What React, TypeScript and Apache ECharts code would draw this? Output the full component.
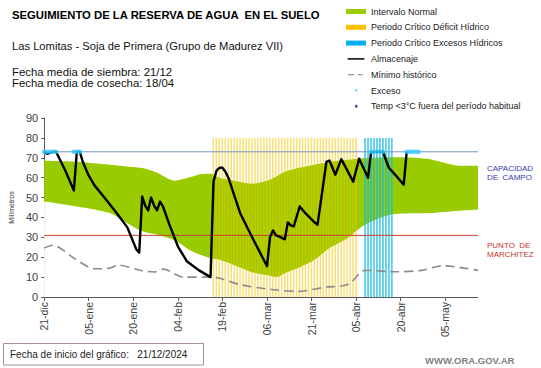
import React, { useEffect, useRef } from "react";
import * as echarts from "echarts";

// ---- axis ----
const tickLabels = ["21-dic", "05-ene", "20-ene", "04-feb", "19-feb", "06-mar", "21-mar", "05-abr", "20-abr", "05-may"];
const tickStep = 15;
const lastDay = 146;

// ---- Intervalo normal (band) ----
const bandDays = [0, 11, 22, 27, 33, 38, 44, 49, 53, 56, 59, 64, 70, 75, 78, 81, 86, 91, 96, 102, 107, 113, 118, 129, 140, 146];
const bandUpper = [68.5, 68, 66.5, 65.8, 64.8, 62.5, 58.5, 60.2, 61.8, 62, 60, 58.5, 57, 58.5, 60.5, 63, 65, 66.5, 68, 69, 69.8, 70.2, 70.3, 69.5, 66, 66];
const bandLower = [48, 45.5, 42.2, 38, 33, 31.3, 28.5, 23.5, 21, 19.5, 18.7, 16, 12.5, 11, 10, 12, 15, 18.7, 24.6, 29.6, 35.5, 39.7, 41.7, 42.2, 43.4, 44];

// ---- Mínimo histórico ----
const minDays = [0, 3, 10, 17, 22, 25, 33, 37, 40, 47, 55, 59, 66, 77, 85, 95, 100, 103, 108, 118, 127, 134, 146];
const minValues = [24.6, 26, 19.6, 14.2, 14.5, 16, 13.2, 12.6, 14, 10, 10, 9.4, 6.2, 3.7, 2.8, 5, 5.5, 7, 13.4, 12.7, 13.4, 15.7, 13.4];

// ---- Almacenaje ----
const almDays = [0, 1, 2, 3, 4, 5, 7, 10, 11, 12, 13, 15, 17, 20, 24, 28, 31, 32, 33, 34, 35, 36, 37, 38, 39, 40, 42, 45, 48, 52, 56, 57, 58, 59, 60, 61, 62, 66, 70, 75, 76, 77, 78, 79, 81, 82, 83, 84, 86, 88, 91, 92, 95, 96, 98, 100, 104, 106, 109, 110, 111, 114, 116, 119, 121, 122];
const almValues = [73, 72, 72.5, 73, 73, 70, 64, 53.5, 73, 73, 68, 61, 56, 50.5, 43, 35, 24, 22.3, 50.5, 46, 43.5, 50, 46, 43.5, 48, 45.5, 37, 25.5, 18, 13.5, 10, 58, 63.5, 65, 65, 63, 60, 42, 30, 15.5, 30, 33.5, 31, 30.5, 29, 37.5, 36, 35.5, 45.5, 42, 37.5, 36.3, 68, 68.6, 61.5, 69.3, 58, 69.5, 60, 72.5, 73, 73, 65, 60, 56.5, 73];

// ---- Exceso ----
const excesoDays = [0, 1, 2, 3, 4, 10, 11, 12, 110, 111, 112, 113, 114, 122, 123, 124, 125, 126];
const excesoValues = [73, 73, 73, 73, 73, 73, 73, 73, 73, 73, 73, 73, 73, 73, 73, 73, 73, 73];

// ---- Periodos críticos ----
const deficitStart = 57;
const deficitEnd = 105;
const excesoStart = 108;
const excesoEnd = 117;
const periodTop = 80;

// ---- Reference levels ----
const capacidadCampo = 73;
const puntoMarchitez = 31;

const FONT = '"Liberation Sans", Arial, sans-serif';

function periodBars(a: number, b: number) {
  const out: number[][] = [];
  for (let d = a; d <= b; d++) out.push([d, periodTop]);
  return out;
}

export default function App() {
  const ref = useRef<HTMLDivElement>(null);
  useEffect(() => {
    if (!ref.current) return;
    const chart = echarts.init(ref.current, null, { renderer: "svg" });
    const option: any = {
      animation: false,
      backgroundColor: "#ffffff",
      textStyle: { fontFamily: FONT },
      title: [
        { text: "SEGUIMIENTO DE LA RESERVA DE AGUA  EN EL SUELO", left: 12, top: 9, padding: 0, textStyle: { fontSize: 11.3, fontWeight: "bold", color: "#000", fontFamily: FONT } },
        { text: "Las Lomitas - Soja de Primera (Grupo de Madurez VII)", left: 12, top: 40, padding: 0, textStyle: { fontSize: 11.2, fontWeight: "normal", color: "#111", fontFamily: FONT } },
        { text: "Fecha media de siembra: 21/12", left: 12, top: 66, padding: 0, textStyle: { fontSize: 11.4, fontWeight: "normal", color: "#111", lineHeight: 11, fontFamily: FONT } },
        { text: "Fecha media de cosecha: 18/04", left: 12, top: 77, padding: 0, textStyle: { fontSize: 11.4, fontWeight: "normal", color: "#111", lineHeight: 11, fontFamily: FONT } },
      ],
      legend: {
        orient: "vertical",
        left: 346,
        top: 6,
        padding: 0,
        itemWidth: 20,
        itemHeight: 5,
        itemGap: 4.8,
        selectedMode: false,
        textStyle: { fontSize: 9, color: "#222", lineHeight: 11, fontFamily: FONT },
        data: [
          { name: "Intervalo Normal", icon: "rect", itemStyle: { color: "#99cc00" } },
          { name: "Periodo Crítico Déficit Hídrico", icon: "rect", itemStyle: { color: "#ffc000" } },
          { name: "Periodo Crítico Excesos Hídricos", icon: "rect", itemStyle: { color: "#00b0f0" } },
          { name: "Almacenaje", icon: "path://M0,0M20,6M0,2.1h20v1.8h-20z", itemStyle: { color: "#000" } },
          { name: "Mínimo histórico", icon: "path://M0,0M20,6M0,2.4h8v1.3h-8zM12,2.4h6v1.3h-6z", itemStyle: { color: "#808080" } },
          { name: "Exceso", icon: "path://M0,0M20,6M9,1.6h2.6v2.6h-2.6z", itemStyle: { color: "#33ccff" } },
          { name: "Temp <3°C fuera del período habitual", icon: "path://M0,0M20,6M10.3,0.6L12.3,3L10.3,5.4L8.3,3z", itemStyle: { color: "#1a1a99" } },
        ],
      },
      grid: { left: 33, right: 63, top: 118, bottom: 71, containLabel: false },
      xAxis: {
        type: "value",
        min: 0,
        max: lastDay,
        interval: tickStep,
        axisLine: { show: true, lineStyle: { color: "#595959", width: 1 } },
        axisTick: { show: true, length: 4, lineStyle: { color: "#595959" } },
        splitLine: { show: false },
        axisLabel: {
          rotate: 90,
          fontSize: 10.5,
          color: "#404040",
          margin: 5,
          showMaxLabel: false,
          formatter: (v: number) => {
            const i = Math.round(v / tickStep);
            return Math.abs(v - i * tickStep) < 0.01 && tickLabels[i] ? tickLabels[i] : "";
          },
        },
      },
      yAxis: {
        type: "value",
        min: 0,
        max: 90,
        interval: 10,
        axisLine: { show: true, lineStyle: { color: "#595959", width: 1 } },
        axisTick: { show: true, length: 3, lineStyle: { color: "#595959" } },
        splitLine: { show: false },
        axisLabel: { fontSize: 11, color: "#404040", margin: 6 },
        name: "Milímetros",
        nameLocation: "middle",
        nameGap: 25,
        nameRotate: 90,
        nameTextStyle: { fontSize: 7, color: "#333" },
      },
      series: [
        {
          name: "Intervalo Normal",
          type: "line",
          z: 2,
          symbol: "none",
          smooth: 0.3,
          silent: true,
          lineStyle: { width: 0 },
          itemStyle: { color: "#99cc00" },
          areaStyle: { color: "#99cc00", opacity: 1 },
          data: bandDays.map((d, i) => [d, bandUpper[i]]),
        },
        {
          name: "Límite inferior",
          type: "line",
          z: 2,
          symbol: "none",
          smooth: 0.3,
          silent: true,
          lineStyle: { width: 0 },
          itemStyle: { color: "#ffffff" },
          areaStyle: { color: "#ffffff", opacity: 1 },
          data: bandDays.map((d, i) => [d, bandLower[i]]),
        },
        {
          name: "Periodo Crítico Déficit Hídrico",
          type: "bar",
          z: 4,
          barWidth: 1.5,
          barGap: "-100%",
          itemStyle: { color: "rgba(240,196,0,0.55)" },
          data: periodBars(deficitStart, deficitEnd),
        },
        {
          name: "Periodo Crítico Excesos Hídricos",
          type: "bar",
          z: 4,
          barWidth: 1.8,
          barGap: "-100%",
          itemStyle: { color: "rgba(20,185,225,0.7)" },
          data: periodBars(excesoStart, excesoEnd),
        },
        {
          name: "Capacidad de campo",
          type: "line",
          z: 5,
          symbol: "none",
          silent: true,
          lineStyle: { color: "#7393c4", width: 1 },
          data: [[0, capacidadCampo], [lastDay, capacidadCampo]],
        },
        {
          name: "Punto de marchitez",
          type: "line",
          z: 5,
          symbol: "none",
          silent: true,
          lineStyle: { color: "#c8412f", width: 1 },
          data: [[0, puntoMarchitez], [lastDay, puntoMarchitez]],
        },
        {
          name: "Mínimo histórico",
          type: "line",
          z: 5,
          symbol: "none",
          smooth: 0.3,
          itemStyle: { color: "#808080" },
          lineStyle: { color: "#8c8c8c", width: 1.6, type: [9, 5] },
          data: minDays.map((d, i) => [d, minValues[i]]),
        },
        {
          name: "Almacenaje",
          type: "line",
          z: 6,
          symbol: "none",
          itemStyle: { color: "#000" },
          lineStyle: { color: "#000", width: 2.4, join: "round" },
          data: almDays.map((d, i) => [d, almValues[i]]),
        },
        {
          name: "Exceso",
          type: "scatter",
          z: 7,
          symbol: "circle",
          symbolSize: 4.5,
          itemStyle: { color: "#33ccff" },
          data: excesoDays.map((d, i) => [d, excesoValues[i]]),
        },
        {
          name: "Temp <3°C fuera del período habitual",
          type: "scatter",
          z: 7,
          symbol: "diamond",
          symbolSize: 5,
          itemStyle: { color: "#1a1a99" },
          data: [],
        },
      ],
      graphic: [
        { type: "text", left: 487, top: 164, style: { text: "CAPACIDAD\nDE  CAMPO", fontSize: 8, fontFamily: FONT, fill: "#3c3ca8", lineHeight: 9 } },
        { type: "text", left: 487, top: 241, style: { text: "PUNTO  DE\nMARCHITEZ", fontSize: 8, fontFamily: FONT, fill: "#c0392b", lineHeight: 9 } },
        { type: "rect", shape: { x: 3.5, y: 343.5, width: 200, height: 21.5 }, style: { fill: "#fff", stroke: "#a89090", lineWidth: 1 } },
        { type: "text", x: 10, y: 354.5, style: { text: "Fecha de inicio del gráfico:   21/12/2024", fontSize: 10, fontFamily: FONT, fill: "#222", verticalAlign: "middle" } },
        { type: "text", x: 425, y: 360, style: { text: "WWW.ORA.GOV.AR", fontSize: 9.5, fontWeight: "bold", fontFamily: FONT, fill: "#7f7f7f", verticalAlign: "middle" } },
      ],
    };
    chart.setOption(option);
    return () => chart.dispose();
  }, []);
  return <div ref={ref} style={{ position: "fixed", left: 0, top: 0, width: 541, height: 368 }} />;
}
